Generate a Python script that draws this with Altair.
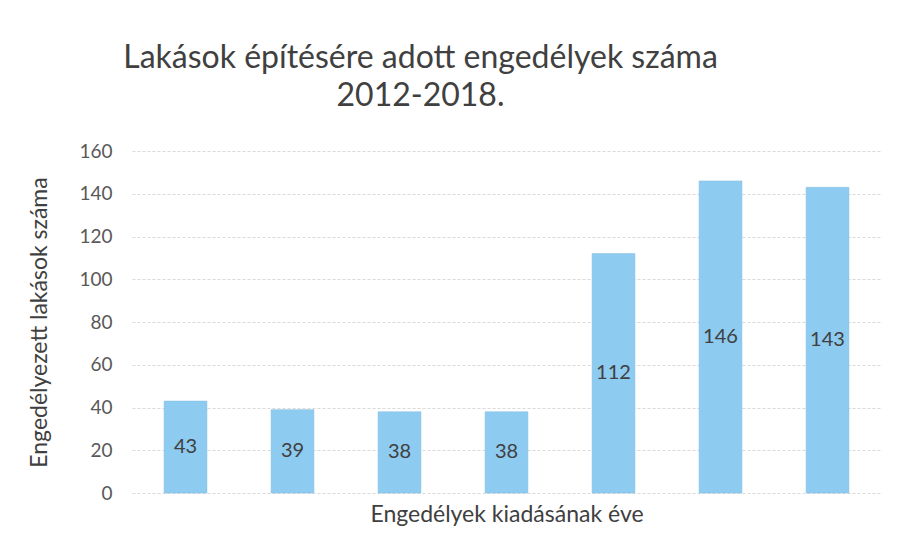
import altair as alt
import pandas as pd

years = ["2012", "2013", "2014", "2015", "2016", "2017", "2018"]
values = [43, 39, 38, 38, 112, 146, 143]
labels = [str(v) for v in values]

df = pd.DataFrame({"year": years, "value": values, "label": labels})

FONT = "Lato"

base = alt.Chart(df)

bars = base.mark_bar(color="#8ECBF0", stroke="#7fbbe0", strokeWidth=0.5).encode(
    x=alt.X("year:N", sort=years,
            scale=alt.Scale(paddingInner=0.6, paddingOuter=0.3),
            axis=alt.Axis(title="Engedélyek kiadásának éve", labels=False, ticks=False,
                          domain=False, grid=False, titleFontSize=23, titleFont=FONT,
                          titleColor="#404040", titleFontWeight="normal", titlePadding=10)),
    y=alt.Y("value:Q", scale=alt.Scale(domain=[0, 160]),
            axis=alt.Axis(title="Engedélyezett lakások száma", values=[0, 20, 40, 60, 80, 100, 120, 140, 160],
                          ticks=False, domain=False, labelPadding=20, labelFontSize=19,
                          labelFont=FONT, labelColor="#595959", titleFontSize=23,
                          titleFont=FONT, titleColor="#404040", titleFontWeight="normal",
                          titlePadding=27, gridColor="#d9d9d9", gridDash=[3, 2])),
)

text = base.mark_text(fontSize=20, font=FONT, color="#404040").encode(
    x=alt.X("year:N", sort=years),
    y=alt.Y("v2:Q"),
    text="label:N",
).transform_calculate(v2="datum.value / 2")

chart = (bars + text).properties(
    width=749,
    height=342,
    autosize=alt.AutoSizeParams(type="none"),
    padding={"left": 124, "top": 143, "right": 8, "bottom": 52},
    title=alt.Title(
        ["Lakások építésére adott engedélyek száma", "2012-2018."],
        fontSize=32, font=FONT, fontWeight="normal", color="#404040",
        anchor="middle", dx=-86, offset=29, lineHeight=38,
    ),
).configure_view(stroke=None, strokeWidth=0)

chart.save("out.html", embed_options={"renderer": "svg", "actions": False})
